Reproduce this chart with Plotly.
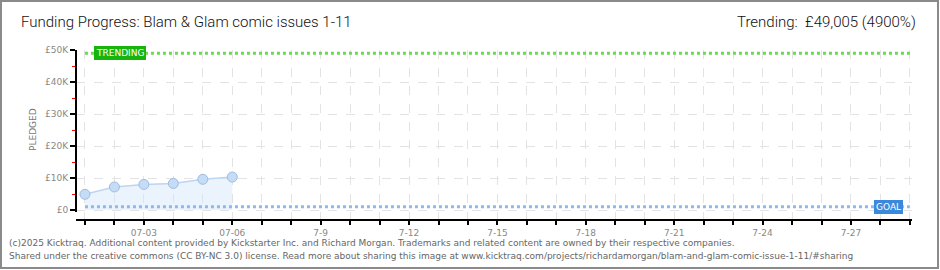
import plotly.graph_objects as go
from datetime import datetime, timedelta

# ---- data ----
dates = ["2025-07-01", "2025-07-02", "2025-07-03", "2025-07-04", "2025-07-05", "2025-07-06"]
pledged = [4900, 7200, 8000, 8300, 9600, 10300]
goal = 1000
trending = 49005
ytick_vals = [0, 10000, 20000, 30000, 40000, 50000]
ytick_text = ["£0", "£10K", "£20K", "£30K", "£40K", "£50K"]
xlabel_map = {"2025-07-03": "07-03", "2025-07-06": "07-06", "2025-07-09": "7-9",
              "2025-07-12": "7-12", "2025-07-15": "7-15", "2025-07-18": "7-18",
              "2025-07-21": "7-21", "2025-07-24": "7-24", "2025-07-27": "7-27"}
start = datetime(2025, 7, 1)
end = datetime(2025, 7, 29)

W, H = 940, 270
L, R, T, B = 76, 28, 50, 51
PW, PH = W - L - R, H - T - B


def px(x):
    return (x - L) / PW


def py(y):
    return (H - B - y) / PH


day_ticks = [start + timedelta(days=i) for i in range(29)]
day_text = [xlabel_map.get(d.strftime("%Y-%m-%d"), "") for d in day_ticks]

fig = go.Figure()

fig.add_trace(go.Scatter(
    x=dates, y=pledged, mode="lines+markers",
    line=dict(color="#bcd6f2", width=1.5),
    fill="tozeroy", fillcolor="rgba(215,232,250,0.5)",
    marker=dict(size=10, color="#c4dcf6", line=dict(color="#9fbbe0", width=1)),
    hoverinfo="skip", showlegend=False,
))

# goal & trending lines
fig.add_trace(go.Scatter(
    x=[start, end], y=[goal, goal], mode="lines",
    line=dict(color="#8fb9ea", width=3, dash="dot"), showlegend=False, hoverinfo="skip"))
fig.add_trace(go.Scatter(
    x=[start, end], y=[trending, trending], mode="lines",
    line=dict(color="#66dd4a", width=3, dash="dot"), showlegend=False, hoverinfo="skip"))

x0 = start - timedelta(hours=7.3)
x1 = start + timedelta(days=(W - R - 85) / 29.46)

fig.update_layout(
    width=W, height=H,
    margin=dict(l=L, r=R, t=T, b=B),
    paper_bgcolor="white", plot_bgcolor="white",
    xaxis=dict(
        type="date", range=[x0, x1],
        tickmode="array", tickvals=day_ticks, ticktext=day_text,
        ticks="outside", ticklen=4, tickwidth=2, tickcolor="black",
        showline=True, linecolor="black", linewidth=2,
        showgrid=True, gridcolor="#e3e3e3", griddash="dash", gridwidth=1,
        tickfont=dict(family="DejaVu Sans", size=9, color="#888"),
        zeroline=False,
    ),
    yaxis=dict(
        range=[-2812.5, 50000],
        tickmode="array", tickvals=ytick_vals, ticktext=ytick_text,
        ticks="outside", ticklen=5, tickwidth=2, tickcolor="black",
        minor=dict(ticks="outside", tickcolor="red", ticklen=3, tickwidth=1,
                   tickvals=[5000, 15000, 25000, 35000, 45000], showgrid=False),
        showline=False,
        showgrid=True, gridcolor="#e3e3e3", griddash="dash", gridwidth=1,
        tickfont=dict(family="DejaVu Sans", size=9, color="#888"),
        zeroline=False,
    ),
    font=dict(family="DejaVu Sans"),
)

shapes = [
    # y axis line
    dict(type="line", xref="paper", yref="y", x0=0, x1=0, y0=-600, y1=50000,
         line=dict(color="black", width=2)),
    # frame
    dict(type="rect", xref="paper", yref="paper", x0=px(1), x1=px(W - 2), y0=py(1), y1=py(H - 2),
         line=dict(color="#8a8a8a", width=2)),
]
fig.update_layout(shapes=shapes)

ann = [
    dict(text="Funding Progress: Blam &amp; Glam comic issues 1-11", xref="paper", yref="paper",
         x=px(19), y=py(22), xanchor="left", yanchor="middle", showarrow=False,
         font=dict(family="Roboto", size=15, color="#111", weight=300)),
    dict(text="Trending:  £49,005 (4900%)", xref="paper", yref="paper",
         x=px(918), y=py(22), xanchor="right", yanchor="middle", showarrow=False,
         font=dict(family="Roboto", size=15, color="#111", weight=300)),
    dict(text="PLEDGED", xref="paper", yref="paper", x=px(33), y=py(130),
         xanchor="center", yanchor="middle", textangle=-90, showarrow=False,
         font=dict(family="DejaVu Sans", size=9, color="#777")),
    dict(text="TRENDING", xref="x", yref="y", x=start + timedelta(days=1.19), y=trending,
         xanchor="center", yanchor="middle", showarrow=False, bgcolor="#17b50c",
         bordercolor="#17b50c", borderpad=1,
         font=dict(family="DejaVu Sans", size=9, color="white")),
    dict(text="GOAL", xref="x", yref="y", x=start + timedelta(days=27.27), y=goal,
         xanchor="center", yanchor="middle", showarrow=False, bgcolor="#3a89db",
         bordercolor="#3a89db", borderpad=1,
         font=dict(family="DejaVu Sans", size=9, color="white")),
    dict(text="(c)2025 Kicktraq. Additional content provided by Kickstarter Inc. and Richard Morgan. Trademarks and related content are owned by their respective companies.",
         xref="paper", yref="paper", x=px(7), y=py(243), xanchor="left", yanchor="middle",
         showarrow=False, font=dict(family="DejaVu Sans", size=9, color="#666")),
    dict(text="Shared under the creative commons (CC BY-NC 3.0) license. Read more about sharing this image at www.kicktraq.com/projects/richardamorgan/blam-and-glam-comic-issue-1-11/#sharing",
         xref="paper", yref="paper", x=px(7), y=py(256), xanchor="left", yanchor="middle",
         showarrow=False, font=dict(family="DejaVu Sans", size=9, color="#666")),
]
fig.update_layout(annotations=ann)

fig.write_html("out.html")
